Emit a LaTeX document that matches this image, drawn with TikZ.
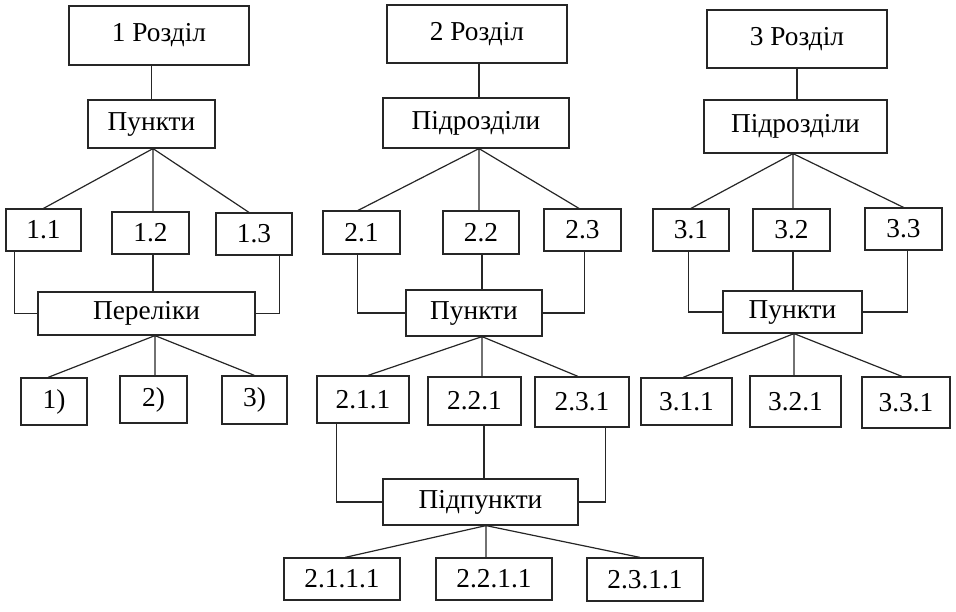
\documentclass[tikz,border=0pt]{standalone}
\usepackage{fontspec}
\setmainfont{Liberation Serif}
\usetikzlibrary{calc}

\begin{document}
\begin{tikzpicture}[x=0.75pt,y=-0.75pt,
  box/.style={draw=black!85,line width=0.9pt,inner sep=0pt,
    font=\fontsize{20.5}{23}\selectfont},
  link/.style={draw=black!85,line width=0.9pt}]
  \useasboundingbox (0,0) rectangle (956,611);

  % Boxes: name / left / top / right / bottom / text (pixel coordinates)
  \foreach \n/\xa/\ya/\xb/\yb/\t in {
    r1/69/6/249/65/1 Розділ,
    p1/88/100/215/148/Пункти,
    a11/6/209/81/251/1.1,
    a12/112/212/189/254/1.2,
    a13/216/213/292/255/1.3,
    per/38/292/255/335/Переліки,
    l1/21/378/87/425/1),
    l2/120/376/187/423/2),
    l3/222/376/287/424/3),
    r2/387/5/567/63/2 Розділ,
    s2/383/98/569/148/Підрозділи,
    b21/323/211/400/254/2.1,
    b22/443/211/519/254/2.2,
    b23/544/209/621/251/2.3,
    p2/406/290/542/336/Пункти,
    c211/317/376/409/423/2.1.1,
    c221/428/377/521/425/2.2.1,
    c231/535/377/629/427/2.3.1,
    q2/383/479/578/525/Підпункти,
    d2111/284/558/400/600/2.1.1.1,
    d2211/436/558/552/600/2.2.1.1,
    d2311/587/558/703/601/2.3.1.1,
    r3/707/10/887/68/3 Розділ,
    s3/704/100/887/153/Підрозділи,
    e31/653/209/729/251/3.1,
    e32/753/209/830/251/3.2,
    e33/865/208/942/250/3.3,
    p3/723/291/862/333/Пункти,
    f311/641/378/732/425/3.1.1,
    f321/750/376/841/427/3.2.1,
    f331/862/377/950/428/3.3.1}
    \node[box,minimum width={0.75*(\xb-\xa)},minimum height={0.75*(\yb-\ya)}]
      (\n) at ({(\xa+\xb)/2},{(\ya+\yb)/2}) {\t};

  % 1 Розділ
  \draw[link] (p1.north) -- (p1.north |- r1.south);
  \draw[link] ($(p1.south)+(1.5,0)$) coordinate (p1-f) -- (a11.north)
    (p1-f) -- ($(a13.north)+(-5,0)$) (p1-f) -- (p1-f |- a12.north);
  \draw[link] ($(a11.south west)+(9,0)$) |- (per.west);
  \draw[link] (p1-f |- a12.south) -- (p1-f |- per.north);
  \draw[link] ($(a13.south east)+(-13,0)$) |- (per.east);
  \draw[link] ($(per.south)+(8.5,0)$) coordinate (per-f) -- ($(l1.north)+(-6,0)$)
    (per-f) -- (l3.north) (per-f) -- (per-f |- l2.north);

  % 2 Розділ
  \draw[link] ($(r2.south)+(2,0)$) coordinate (r2-f) -- (r2-f |- s2.north);
  \draw[link] (r2-f |- s2.south) coordinate (s2-f) -- ($(b21.north)+(-3.5,0)$)
    (s2-f) -- ($(b23.north)+(-3.5,0)$) (s2-f) -- (s2-f |- b22.north);
  \draw[link] ($(b21.south west)+(35,0)$) |- (p2.west);
  \draw[link] ($(b22.south)+(1,0)$) coordinate (b22-f) -- (b22-f |- p2.north);
  \draw[link] ($(b23.south west)+(41,0)$) |- (p2.east);
  \draw[link] ($(p2.south)+(8,0)$) coordinate (p2-f) -- ($(c211.north)+(5,0)$)
    (p2-f) -- ($(c231.north)+(-4,0)$) (p2-f) -- (p2-f |- c221.north);
  \draw[link] ($(c211.south west)+(20,0)$) |- (q2.west);
  \draw[link] ($(p2-f |- c221.south)+(2,0)$) coordinate (c221-f) -- (c221-f |- q2.north);
  \draw[link] ($(c231.south west)+(71,0)$) |- (q2.east);
  \draw[link] ($(q2.south)+(5.5,0)$) coordinate (q2-f) -- ($(d2111.north)+(3,0)$)
    (q2-f) -- ($(d2311.north)+(-5,0)$) (q2-f) -- (q2-f |- d2211.north);

  % 3 Розділ
  \draw[link] (r3.south) -- (r3.south |- s3.north);
  \draw[link] ($(s3.south)+(-2.5,0)$) coordinate (s3-f) -- (e31.north)
    (s3-f) -- (e33.north) (s3-f) -- (s3-f |- e32.north);
  \draw[link] ($(e31.south west)+(36,0)$) |- (p3.west);
  \draw[link] (s3-f |- e32.south) -- (s3-f |- p3.north);
  \draw[link] ($(e33.south west)+(43,0)$) |- (p3.east);
  \draw[link] ($(p3.south)+(1.5,0)$) coordinate (p3-f) -- ($(f311.north)+(-3.5,0)$)
    (p3-f) -- ($(f331.north)+(-4,0)$) (p3-f) -- (p3-f |- f321.north);
\end{tikzpicture}
\end{document}
